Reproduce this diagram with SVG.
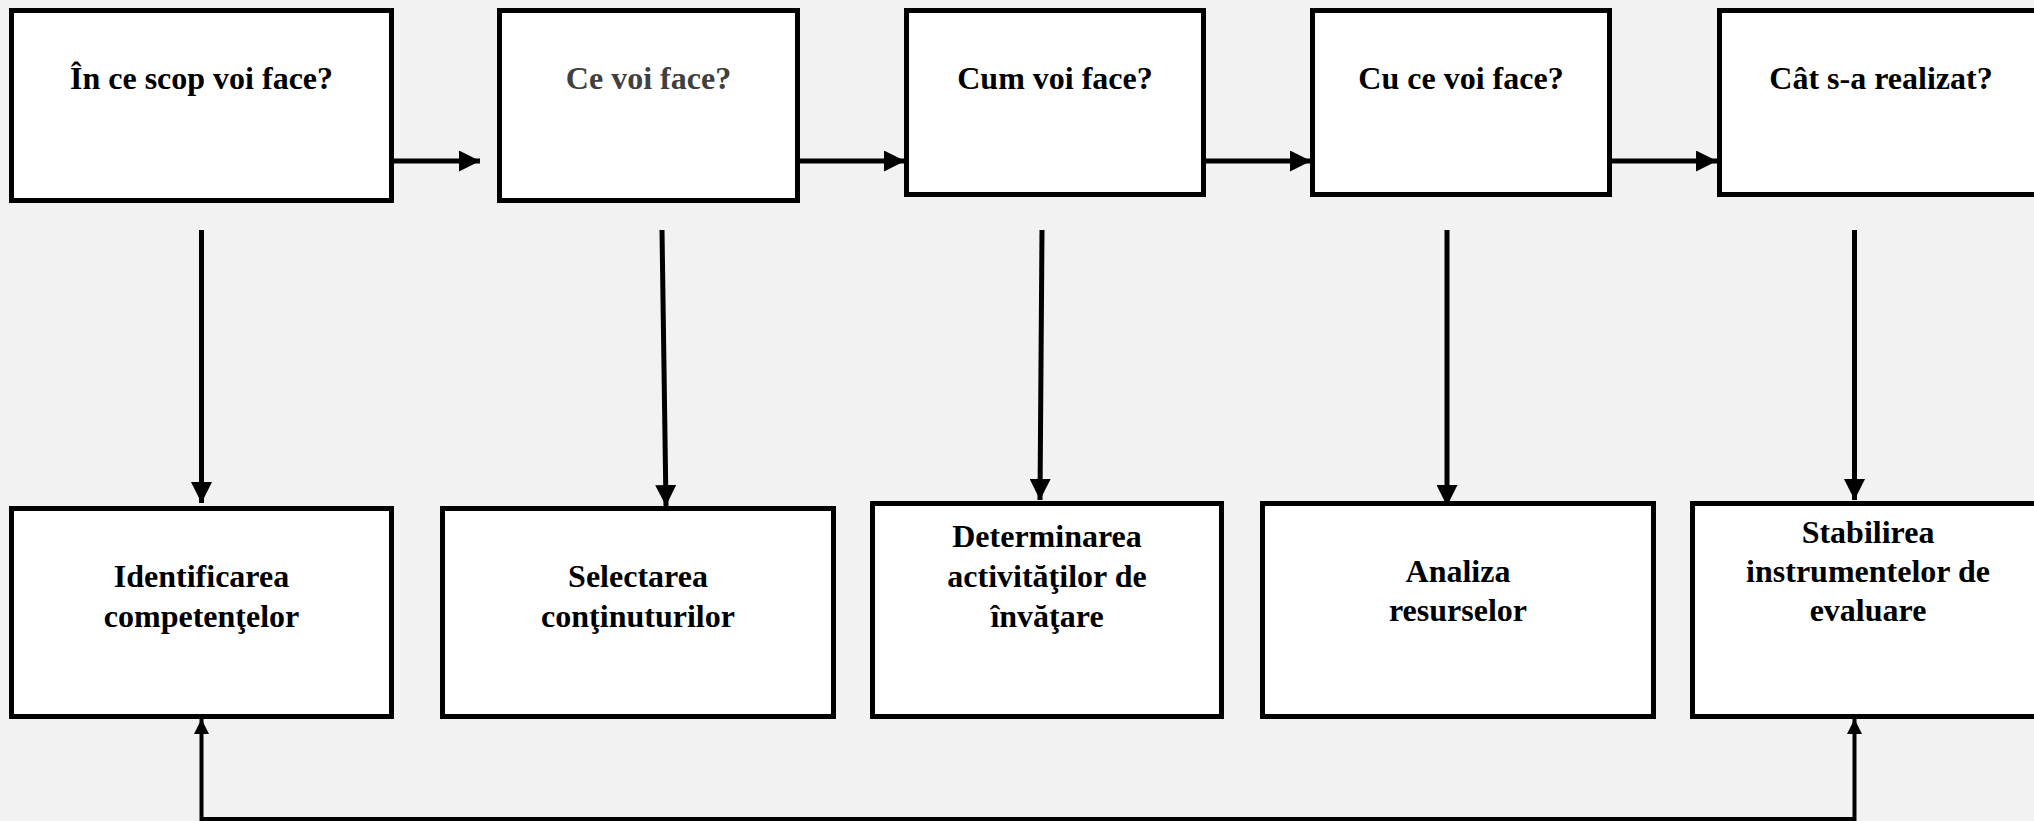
<svg xmlns="http://www.w3.org/2000/svg" width="2034" height="821" viewBox="0 0 2034 821">
<style>
.box{fill:#fff;stroke:#000;stroke-width:5}
.t{font-family:"Liberation Serif","Times New Roman",serif;font-weight:bold;font-size:32px;text-anchor:middle;fill:#000}
.g{fill:#404040}
.c{fill:none;stroke:#000;stroke-width:5}
.f{fill:none;stroke:#000;stroke-width:4}
</style>
<defs>
<marker id="ah" markerUnits="userSpaceOnUse" markerWidth="21" markerHeight="21" refX="21" refY="10.5" orient="auto"><path d="M0,0 L21,10.5 L0,21 Z" fill="#000"/></marker>
<marker id="ahs" markerUnits="userSpaceOnUse" markerWidth="15" markerHeight="15" refX="15" refY="7.5" orient="auto-start-reverse"><path d="M0,0 L15,7.5 L0,15 Z" fill="#000"/></marker>
</defs>
<rect width="2034" height="821" fill="#f2f2f2"/>
<g id="connectors">
<line class="c" x1="394" y1="161" x2="480" y2="161" marker-end="url(#ah)"/>
<line class="c" x1="800" y1="161" x2="905" y2="161" marker-end="url(#ah)"/>
<line class="c" x1="1206" y1="161" x2="1311" y2="161" marker-end="url(#ah)"/>
<line class="c" x1="1612" y1="161" x2="1717" y2="161" marker-end="url(#ah)"/>
<line class="c" x1="201.5" y1="230" x2="201.5" y2="503" marker-end="url(#ah)"/>
<line class="c" x1="662" y1="230" x2="666" y2="506" marker-end="url(#ah)"/>
<line class="c" x1="1042" y1="230" x2="1040" y2="500" marker-end="url(#ah)"/>
<line class="c" x1="1447" y1="230" x2="1447" y2="506" marker-end="url(#ah)"/>
<line class="c" x1="1854.5" y1="230" x2="1854.5" y2="500" marker-end="url(#ah)"/>
<path class="f" d="M201.5,719 L201.5,819 L1854.5,819 L1854.5,719" marker-start="url(#ahs)" marker-end="url(#ahs)"/>
</g>
<g id="n1"><rect class="box" x="11.5" y="10.5" width="380" height="190"/><text class="t" x="201.5" y="89">În ce scop voi face?</text></g>
<g id="n2"><rect class="box" x="499.5" y="10.5" width="298" height="190"/><text class="t g" x="648.5" y="89">Ce voi face?</text></g>
<g id="n3"><rect class="box" x="906.5" y="10.5" width="297" height="184"/><text class="t" x="1055" y="89">Cum voi face?</text></g>
<g id="n4"><rect class="box" x="1312.5" y="10.5" width="297" height="184"/><text class="t" x="1461" y="89">Cu ce voi face?</text></g>
<g id="n5"><rect class="box" x="1719.5" y="10.5" width="324" height="184"/><text class="t" x="1881" y="89">Cât s-a realizat?</text></g>
<g id="n6"><rect class="box" x="11.5" y="508.5" width="380" height="208"/><text class="t" x="201.5" y="587">Identificarea</text><text class="t" x="201.5" y="627">competenţelor</text></g>
<g id="n7"><rect class="box" x="442.5" y="508.5" width="391" height="208"/><text class="t" x="638" y="587">Selectarea</text><text class="t" x="638" y="627">conţinuturilor</text></g>
<g id="n8"><rect class="box" x="872.5" y="503.5" width="349" height="213"/><text class="t" x="1047" y="547">Determinarea</text><text class="t" x="1047" y="587">activităţilor de</text><text class="t" x="1047" y="627">învăţare</text></g>
<g id="n9"><rect class="box" x="1262.5" y="503.5" width="391" height="213"/><text class="t" x="1458" y="582">Analiza</text><text class="t" x="1458" y="621">resurselor</text></g>
<g id="n10"><rect class="box" x="1692.5" y="503.5" width="351" height="213"/><text class="t" x="1868" y="543">Stabilirea</text><text class="t" x="1868" y="582">instrumentelor de</text><text class="t" x="1868" y="621">evaluare</text></g>
</svg>
